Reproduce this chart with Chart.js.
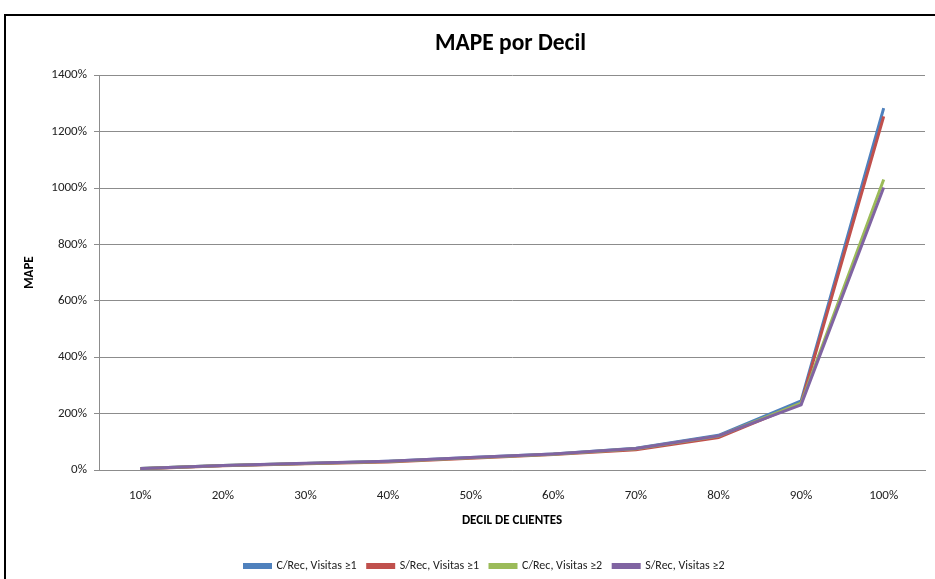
<!DOCTYPE html>
<html>
<head>
    <title>MAPE por Decil</title>
    <style>
        body { margin: 0; background: #fff; overflow: hidden; }
        #frame {
            position: absolute; left: 4px; top: 14px;
            width: 1000px; height: 700px;
            border-left: 2px solid #000; border-top: 2px solid #000;
        }
        #mapeChart { position: absolute; left: 0; top: 0; }
    </style>
    <script src="https://cdn.jsdelivr.net/npm/chart.js"></script>
</head>
<body>
    <div id="frame"></div>
    <canvas id="mapeChart" width="935" height="579"></canvas>
    <script>
        // deciles and MAPE (%) per series
        var deciles = ['10%', '20%', '30%', '40%', '50%', '60%', '70%', '80%', '90%', '100%'];
        var cRecV1 = [5, 16, 23, 31, 44, 57, 77, 123, 245, 1283];
        var sRecV1 = [4, 15, 22, 28, 42, 55, 72, 115, 236, 1254];
        var cRecV2 = [5, 16, 23, 30, 43, 56, 75, 120, 237, 1030];
        var sRecV2 = [5, 16, 24, 31, 44, 57, 76, 121, 231, 1002];

        var FONT = 'Carlito, "Liberation Sans Narrow", "DejaVu Sans Condensed", sans-serif';

        // later series are painted over earlier ones
        function series(label, data, color, order) {
            return {
                label: label,
                data: data,
                borderColor: color,
                backgroundColor: color,
                borderWidth: 3,
                pointRadius: 0,
                tension: 0,
                fill: false,
                order: order
            };
        }

        // title centred over the plot area, legend nudged right
        var boxShift = {
            id: 'boxShift',
            afterLayout: function (chart) {
                chart.titleBlock.left += 48;
                chart.titleBlock.right += 48;
                chart.legend.left += 22;
                chart.legend.right += 22;
            }
        };

        new Chart(document.getElementById('mapeChart'), {
            type: 'line',
            data: {
                labels: deciles,
                datasets: [
                    series('C/Rec, Visitas \u22651', cRecV1, '#4F81BD', 4),
                    series('S/Rec, Visitas \u22651', sRecV1, '#C0504D', 3),
                    series('C/Rec, Visitas \u22652', cRecV2, '#9BBB59', 2),
                    series('S/Rec, Visitas \u22652', sRecV2, '#8064A2', 1)
                ]
            },
            plugins: [boxShift],
            options: {
                responsive: false,
                animation: false,
                layout: { padding: { left: 0, right: 10, top: 0, bottom: -3 } },
                plugins: {
                    title: {
                        display: true,
                        text: 'MAPE por Decil',
                        color: '#000',
                        font: { family: FONT, size: 23.5, weight: 'bold' },
                        padding: { top: 30, bottom: 17 }
                    },
                    legend: {
                        position: 'bottom',
                        labels: {
                            color: '#222',
                            font: { family: FONT, size: 12 },
                            boxWidth: 26,
                            boxHeight: 3,
                            padding: 11,
                            sort: function (a, b) { return a.datasetIndex - b.datasetIndex; }
                        }
                    },
                    tooltip: { enabled: false }
                },
                scales: {
                    x: {
                        offset: true,
                        grid: { display: false },
                        border: { color: '#8c8c8c' },
                        ticks: {
                            color: '#222',
                            font: { family: FONT, size: 13 },
                            padding: 10,
                            maxRotation: 0
                        },
                        title: {
                            display: true,
                            text: 'DECIL DE CLIENTES',
                            color: '#000',
                            font: { family: FONT, size: 13, weight: 'bold' },
                            padding: { top: 4, bottom: 20 }
                        },
                        afterFit: function (scale) { scale.height = 79; }
                    },
                    y: {
                        min: 0,
                        max: 1400,
                        grid: { color: '#8c8c8c', tickLength: 5 },
                        border: { color: '#8c8c8c' },
                        ticks: {
                            stepSize: 200,
                            color: '#222',
                            font: { family: FONT, size: 13 },
                            padding: 7,
                            callback: function (v) { return v + '%'; }
                        },
                        title: {
                            display: true,
                            text: 'MAPE',
                            color: '#000',
                            font: { family: FONT, size: 13, weight: 'bold' },
                            padding: { top: 22, bottom: 0 }
                        },
                        afterFit: function (scale) { scale.width = 99; }
                    }
                }
            }
        });
    </script>
</body>
</html>
